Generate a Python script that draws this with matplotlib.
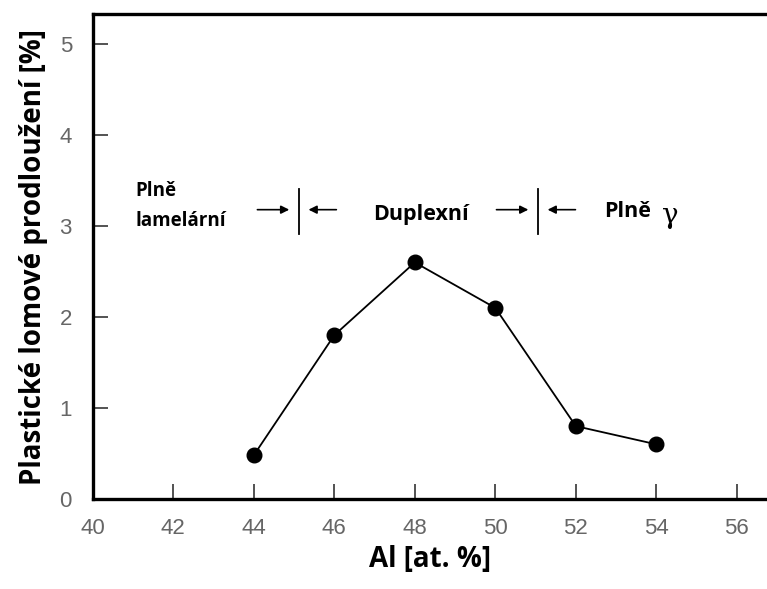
import matplotlib
matplotlib.use("Agg")
import matplotlib.pyplot as plt

al = [44, 46, 48, 50, 52, 54]
elong = [0.48, 1.8, 2.6, 2.1, 0.8, 0.6]
xticks = [40, 42, 44, 46, 48, 50, 52, 54, 56]
yticks = [0, 1, 2, 3, 4, 5]
boundaries = [45.12, 51.06]

fig = plt.figure(figsize=(7.67, 5.89), dpi=100)
ax = fig.add_axes([0.121, 0.153, 0.879, 0.823])

ax.plot(al, elong, color="black", lw=1.3, marker="o", ms=10.5, mfc="black")

ax.set_xlim(40, 56.75)
ax.set_ylim(0, 5.33)
ax.set_xticks(xticks)
ax.set_yticks(yticks)
ax.tick_params(direction="in", length=11, width=1.3, color="#444444",
               labelcolor="#666666", labelsize=16)
ax.tick_params(axis="x", pad=14)
ax.tick_params(axis="y", pad=15)
for lab in ax.get_xticklabels() + ax.get_yticklabels():
    lab.set_family("Liberation Sans")
ax.spines["right"].set_visible(False)
for s in ["left", "bottom", "top"]:
    ax.spines[s].set_linewidth(2.4)

bold = dict(family="Open Sans", fontweight="bold")
ax.set_xlabel("Al [at. %]", fontsize=20, labelpad=4, **bold)
ax.set_ylabel("Plastické lomové prodloužení [%]", fontsize=20, labelpad=8, **bold)

# phase boundaries with arrows
for xb in boundaries:
    ax.plot([xb, xb], [2.91, 3.41], color="black", lw=1.3)
    ax.annotate("", xy=(xb - 0.17, 3.18), xytext=(xb - 1.1, 3.18),
                arrowprops=dict(arrowstyle="-|>", color="black", lw=1.2, mutation_scale=12))
    ax.annotate("", xy=(xb + 0.17, 3.18), xytext=(xb + 1.0, 3.18),
                arrowprops=dict(arrowstyle="-|>", color="black", lw=1.2, mutation_scale=12))

ax.text(41.05, 3.22, "Plně\nlamelární", fontsize=13.5, va="center", ha="left",
        linespacing=1.7, **bold)
ax.text(48.15, 3.13, "Duplexní", fontsize=15.5, va="center", ha="center", **bold)
ax.text(52.7, 3.16, "Plně", fontsize=15.5, va="center", ha="left", **bold)
ax.text(54.15, 3.12, "γ", fontsize=20, va="center", ha="left", family="DejaVu Serif")

fig.savefig("out.png", dpi=100)
